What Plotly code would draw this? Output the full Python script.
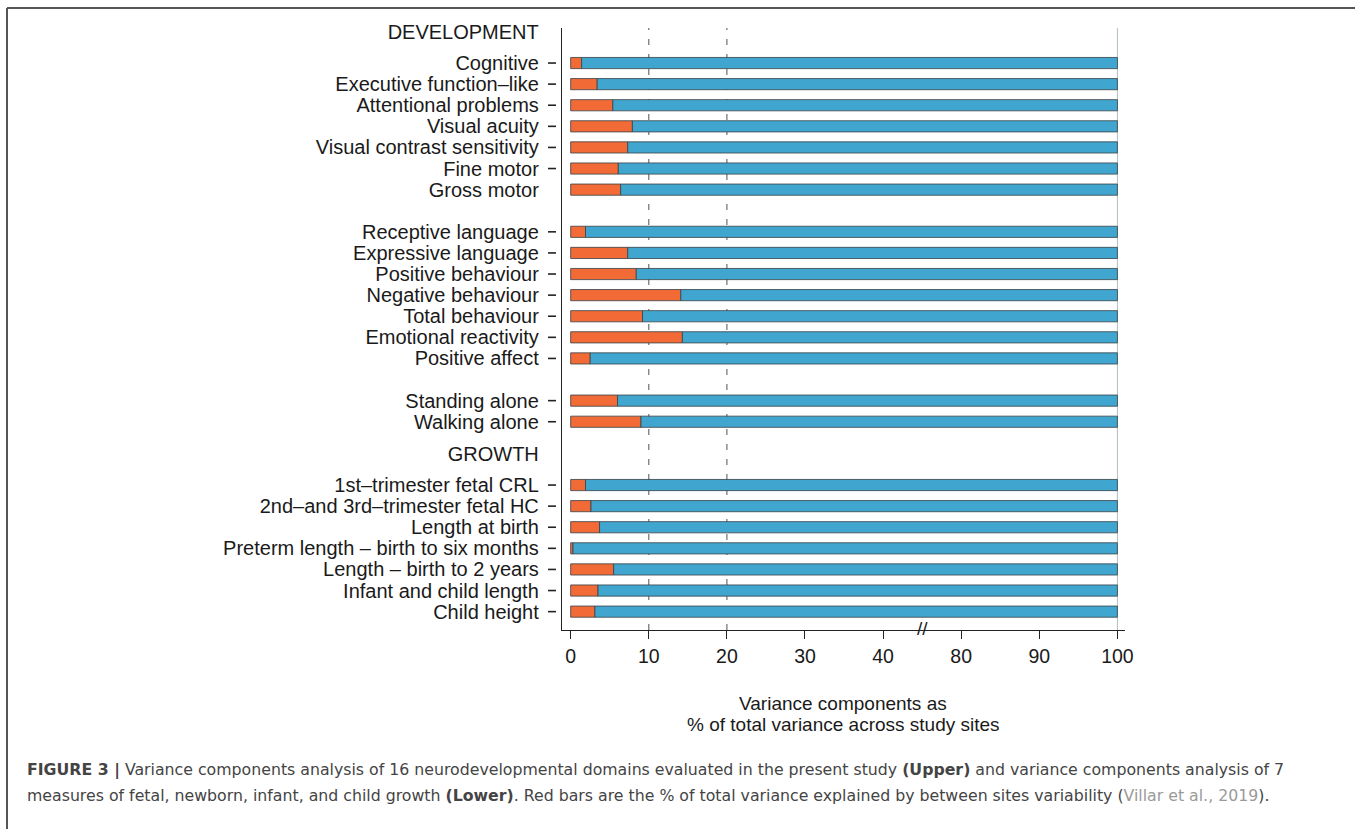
import plotly.graph_objects as go

# Between-site share of total variance (%) for each outcome; the rest is within-site variance
motor_labels = ["Cognitive", "Executive function–like", "Attentional problems", "Visual acuity",
                "Visual contrast sensitivity", "Fine motor", "Gross motor"]
motor_between = [1.4, 3.4, 5.4, 7.9, 7.3, 6.1, 6.4]

language_labels = ["Receptive language", "Expressive language", "Positive behaviour",
                   "Negative behaviour", "Total behaviour", "Emotional reactivity", "Positive affect"]
language_between = [1.9, 7.3, 8.4, 14.1, 9.2, 14.3, 2.5]

milestone_labels = ["Standing alone", "Walking alone"]
milestone_between = [6.0, 9.0]

growth_labels = ["1st–trimester fetal CRL", "2nd–and 3rd–trimester fetal HC", "Length at birth",
                 "Preterm length – birth to six months", "Length – birth to 2 years",
                 "Infant and child length", "Child height"]
growth_between = [1.9, 2.6, 3.7, 0.3, 5.5, 3.5, 3.1]

section_titles = ["DEVELOPMENT", "GROWTH"]
x_tick_values = [0, 10, 20, 30, 40, 80, 90, 100]
reference_lines = [10, 20]
untucked_rows = ["Gross motor"]          # row drawn without an axis tick

TOTAL = 100
BREAK_LO, BREAK_HI = 45, 75             # axis is cut between these percentages

def to_axis(v):
    """Map a percentage onto the broken axis."""
    return v if v <= BREAK_LO else v - (BREAK_HI - BREAK_LO)

# ---- row layout --------------------------------------------------------------
blocks = [(motor_labels, motor_between, 0, section_titles[0]),
          (language_labels, language_between, 1, None),
          (milestone_labels, milestone_between, 1, None),
          (growth_labels, growth_between, 2, section_titles[1])]

rows, values, slots = [], [], []
header_slots, header_text = [], []
slot = 0
for labels, vals, gap, title in blocks:
    slot += gap
    if title is not None:
        header_slots.append(slot - 1.45)
        header_text.append(title)
    for lab, v in zip(labels, vals):
        rows.append(lab)
        values.append(v)
        slots.append(slot)
        slot += 1

W, H = 1355, 829
L, R, T, B = 562, 230, 28, 199
PW, PH = W - L - R, H - T - B

def px_x(px):
    return (px - L) / PW

def px_y(py):
    return (H - B - py) / PH

FONT = "Liberation Sans, Arial, Helvetica, sans-serif"
CAPTION_FONT = "DejaVu Sans, Verdana, sans-serif"
ORANGE = "#F26A36"
BLUE = "#41A6CF"
OUTLINE = "rgba(55,65,70,0.8)"

fig = go.Figure()
fig.add_trace(go.Bar(
    y=slots, x=[to_axis(v) for v in values], base=[0] * len(values),
    orientation="h", width=0.53, marker=dict(color=ORANGE, line=dict(color=OUTLINE, width=1)),
    hoverinfo="skip", showlegend=False))
fig.add_trace(go.Bar(
    y=slots, x=[to_axis(TOTAL) - to_axis(v) for v in values], base=[to_axis(v) for v in values],
    orientation="h", width=0.53, marker=dict(color=BLUE, line=dict(color=OUTLINE, width=1)),
    hoverinfo="skip", showlegend=False))

shapes = []
# dashed reference lines
for ref in reference_lines:
    shapes.append(dict(type="line", xref="x", yref="paper", x0=ref, x1=ref, y0=0, y1=1,
                       line=dict(color="#6f6f6f", width=1.2, dash="6px,9px"), layer="below"))
# thin line at 100 %
shapes.append(dict(type="line", xref="x", yref="paper", x0=to_axis(TOTAL), x1=to_axis(TOTAL),
                   y0=0, y1=1, line=dict(color="#b5bcc0", width=1), layer="below"))
# detached y-axis tick marks
for lab, s in zip(rows, slots):
    if lab in untucked_rows:
        continue
    shapes.append(dict(type="line", xref="paper", yref="y", x0=px_x(548), x1=px_x(556),
                       y0=s, y1=s, line=dict(color="#222", width=1.6)))
# figure frame (top and left edges)
shapes.append(dict(type="line", xref="paper", yref="paper", x0=px_x(7), x1=px_x(W),
                   y0=px_y(8), y1=px_y(8), line=dict(color="#555", width=2)))
shapes.append(dict(type="line", xref="paper", yref="paper", x0=px_x(7), x1=px_x(7),
                   y0=px_y(8), y1=px_y(H), line=dict(color="#555", width=2)))

annotations = []
# axis break mark
annotations.append(dict(x=BREAK_LO, y=0, xref="x", yref="paper", text="//", showarrow=False,
                        yanchor="middle", yshift=2, font=dict(family=FONT, size=19, color="#222")))
# x-axis title
annotations.append(dict(x=px_x(843), y=px_y(703), xref="paper", yref="paper",
                        text="Variance components as", showarrow=False, yanchor="middle",
                        font=dict(family=FONT, size=19, color="#1a1a1a")))
annotations.append(dict(x=px_x(843), y=px_y(724), xref="paper", yref="paper",
                        text="% of total variance across study sites", showarrow=False,
                        yanchor="middle", font=dict(family=FONT, size=19, color="#1a1a1a")))
# caption
cap1 = ("<b>FIGURE 3 |</b> Variance components analysis of 16 neurodevelopmental domains "
        "evaluated in the present study <b>(Upper)</b> and variance components analysis of 7")
cap2 = ("measures of fetal, newborn, infant, and child growth <b>(Lower)</b>. Red bars are the % of "
        "total variance explained by between sites variability "
        "(<span style='color:#9a9a9a'>Villar et al., 2019</span>).")
annotations.append(dict(x=px_x(25), y=px_y(770), xref="paper", yref="paper", text=cap1,
                        showarrow=False, xanchor="left", yanchor="middle",
                        font=dict(family=CAPTION_FONT, size=15.75, color="#444")))
annotations.append(dict(x=px_x(25), y=px_y(795), xref="paper", yref="paper", text=cap2,
                        showarrow=False, xanchor="left", yanchor="middle",
                        font=dict(family=CAPTION_FONT, size=15.75, color="#444")))

fig.update_layout(
    width=W, height=H,
    margin=dict(l=L, r=R, t=T, b=B, pad=0),
    paper_bgcolor="white", plot_bgcolor="white",
    barmode="overlay",
    shapes=shapes, annotations=annotations,
    font=dict(family=FONT, color="#1a1a1a"),
    xaxis=dict(range=[-1.11, 70.97], tickvals=[to_axis(v) for v in x_tick_values],
               ticktext=[str(v) for v in x_tick_values], showgrid=False, zeroline=False,
               showline=True, linecolor="#222", linewidth=1.4, ticks="outside", ticklen=8,
               tickwidth=1.4, tickcolor="#222", tickfont=dict(size=19.5, family=FONT, color="#1a1a1a")),
    yaxis=dict(range=[slots[-1] + 0.87, slots[0] - 1.66], tickvals=slots + header_slots,
               ticktext=rows + header_text, showgrid=False, zeroline=False,
               showline=True, linecolor="#222", linewidth=1.4, ticks="",
               ticklabelstandoff=18, tickfont=dict(size=20, family=FONT, color="#1a1a1a")),
)

fig.write_html("out.html")
